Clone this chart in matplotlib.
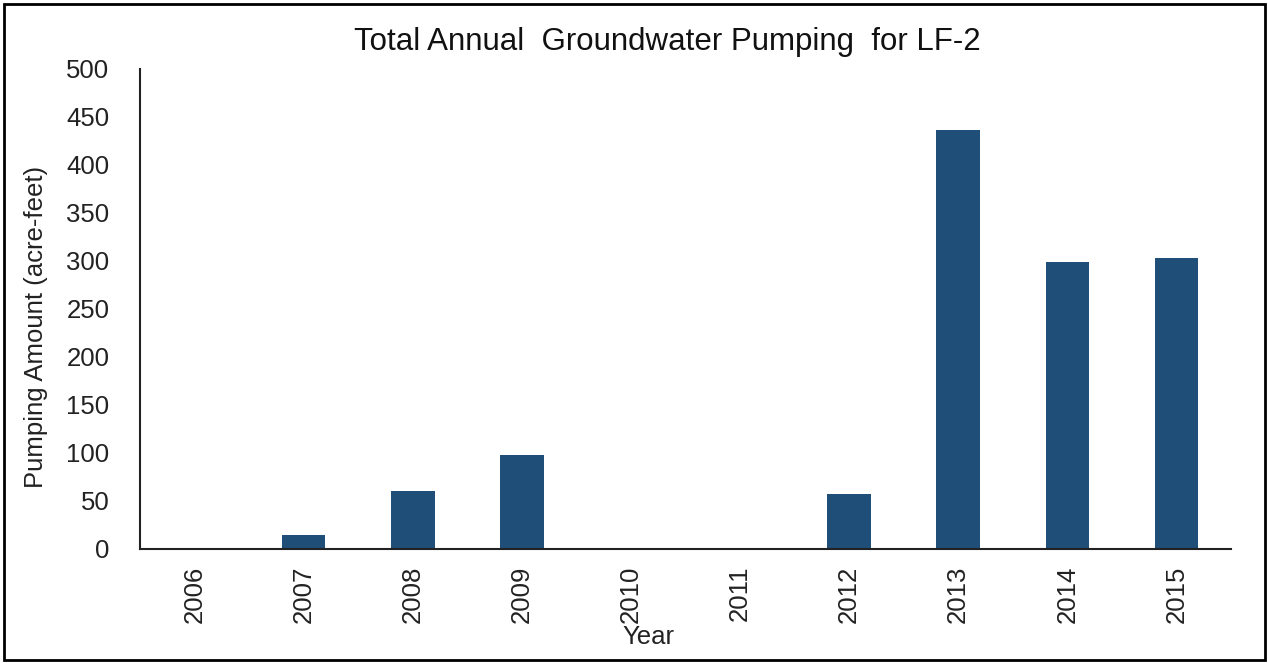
import matplotlib
matplotlib.use("Agg")
import matplotlib.pyplot as plt
from matplotlib.patches import Rectangle

years = ["2006", "2007", "2008", "2009", "2010", "2011", "2012", "2013", "2014", "2015"]
pumping = [0, 15, 60, 98, 0, 0, 57, 436, 299, 303]
yticks = [0, 50, 100, 150, 200, 250, 300, 350, 400, 450, 500]

plt.rcParams['font.family'] = ['Liberation Sans', 'DejaVu Sans']

fig = plt.figure(figsize=(12.68, 6.63), dpi=100)
ax = fig.add_axes([140/1268, 1-549/663, (1231-140)/1268, (549-69)/663])

x = list(range(len(years)))
ax.bar(x, pumping, width=0.4, color="#1F4E79")

ax.set_xlim(-0.5, len(years) - 0.5)
ax.set_ylim(0, 500)
ax.set_yticks(yticks)
ax.set_yticklabels([str(v) for v in yticks], fontsize=18.5, color="#222222")
ax.set_xticks(x)
ax.set_xticklabels(years, rotation=90, fontsize=18.5, color="#222222")
ax.tick_params(axis='both', length=0)
ax.tick_params(axis='y', pad=22)
ax.tick_params(axis='x', pad=12)

for s in ['top', 'right']:
    ax.spines[s].set_visible(False)
for s in ['left', 'bottom']:
    ax.spines[s].set_linewidth(1.5)
    ax.spines[s].set_color("#222222")

fig.text(667/1268, 1-42/663, "Total Annual  Groundwater Pumping  for LF-2",
         ha='center', va='center', fontsize=22.5, color="#111111")
fig.text(36/1268, 1-327/663, "Pumping Amount (acre-feet)", rotation=90,
         ha='center', va='center', fontsize=18.5, color="#222222")
fig.text(648/1268, 1-637/663, "Year", ha='center', va='center',
         fontsize=18.5, color="#222222")

fig.patches.append(Rectangle((4/1268, 3/663), 1261/1268, 656/663,
                             transform=fig.transFigure, fill=False,
                             edgecolor="black", linewidth=2))

fig.savefig("out.png", dpi=100)
